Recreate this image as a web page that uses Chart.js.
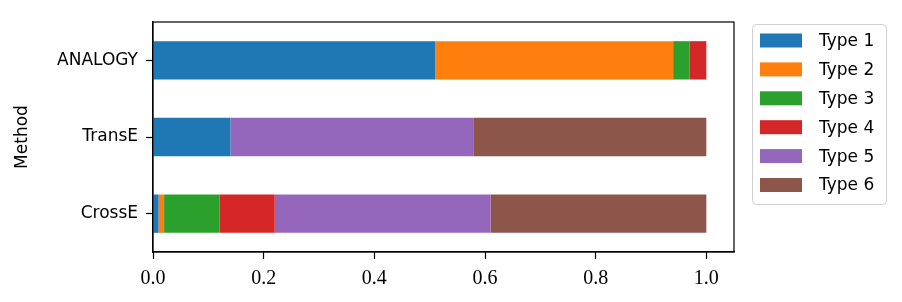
<!DOCTYPE html>
<html>
<head>
<meta charset="utf-8">
<script src="https://cdn.jsdelivr.net/npm/chart.js@4.4.1/dist/chart.umd.min.js"></script>
<style>
  html, body { margin: 0; padding: 0; background: #fff; }
  #wrap { width: 902px; height: 302px; position: relative; }
</style>
</head>
<body>
<div id="wrap"><canvas id="chart" width="902" height="302"></canvas></div>
<script>
const METHODS = ["ANALOGY", "TransE", "CrossE"];
const TYPE_NAMES = ["Type 1", "Type 2", "Type 3", "Type 4", "Type 5", "Type 6"];
const TYPE1 = [0.51, 0.14, 0.01];
const TYPE2 = [0.43, 0.00, 0.01];
const TYPE3 = [0.03, 0.00, 0.10];
const TYPE4 = [0.03, 0.00, 0.10];
const TYPE5 = [0.00, 0.44, 0.39];
const TYPE6 = [0.00, 0.42, 0.39];
const X_TICKS = [0, 0.2, 0.4, 0.6, 0.8, 1.0];

const COLORS = ["#1f77b4", "#ff7f0e", "#2ca02c", "#d62728", "#9467bd", "#8c564b"];
const SANS = "'DejaVu Sans', sans-serif";
const SERIF = "'Liberation Serif', serif";

const series = [TYPE1, TYPE2, TYPE3, TYPE4, TYPE5, TYPE6];

// spines on all four sides
const frame = {
  id: "frame",
  afterDraw(chart) {
    const {ctx, chartArea: a} = chart;
    ctx.save();
    ctx.strokeStyle = "#000";
    ctx.lineWidth = 1.2;
    ctx.strokeRect(a.left, a.top, a.right - a.left, a.bottom - a.top);
    ctx.restore();
  }
};

// matplotlib-style legend box to the right
const boxLegend = {
  id: "boxLegend",
  afterDraw(chart) {
    const ctx = chart.ctx;
    const x = 752, y = 24, w = 134, h = 180;
    ctx.save();
    ctx.beginPath();
    ctx.roundRect(x + 0.5, y + 0.5, w, h, 4);
    ctx.fillStyle = "rgba(255,255,255,0.8)";
    ctx.fill();
    ctx.strokeStyle = "#d0d0d0";
    ctx.lineWidth = 1;
    ctx.stroke();
    ctx.font = "17px " + SANS;
    ctx.textBaseline = "middle";
    chart.data.datasets.forEach((ds, i) => {
      const cy = y + 16.5 + i * 28.9;
      ctx.fillStyle = ds.backgroundColor;
      ctx.fillRect(760, cy - 7, 42, 14);
      ctx.fillStyle = "#000";
      ctx.fillText(ds.label, 819, cy + 1);
    });
    ctx.restore();
  }
};

new Chart(document.getElementById("chart"), {
  type: "bar",
  data: {
    labels: METHODS,
    datasets: series.map((vals, i) => ({
      label: TYPE_NAMES[i],
      data: vals,
      backgroundColor: COLORS[i],
      borderWidth: 0,
      barPercentage: 0.5,
      categoryPercentage: 1.0
    }))
  },
  options: {
    indexAxis: "y",
    responsive: false,
    animation: false,
    layout: { padding: { left: 0, top: 22, right: 168, bottom: 0 } },
    plugins: { legend: { display: false }, tooltip: { enabled: false } },
    scales: {
      x: {
        stacked: true,
        min: 0,
        max: 1.05,
        afterBuildTicks: s => { s.ticks = X_TICKS.map(v => ({ value: v })); },
        afterFit: s => { s.height = 50; },
        grid: { display: true, drawOnChartArea: false, drawTicks: true, tickLength: 7, color: "#000", tickWidth: 1.2 },
        border: { display: true, color: "#000", width: 1.2 },
        ticks: {
          color: "#000",
          padding: 8,
          maxRotation: 0,
          font: { family: SERIF, size: 20 },
          callback: v => Number(v).toFixed(1)
        }
      },
      y: {
        stacked: true,
        afterFit: s => { s.width = 153; },
        grid: { display: true, offset: false, drawOnChartArea: false, drawTicks: true, tickLength: 7, color: "#000", tickWidth: 1.2 },
        border: { display: true, color: "#000", width: 1.2 },
        ticks: { color: "#000", padding: 8, font: { family: SANS, size: 17 } },
        title: {
          display: true,
          text: "Method",
          color: "#000",
          font: { family: SANS, size: 17 },
          padding: { top: 12, bottom: 0 }
        }
      }
    }
  },
  plugins: [frame, boxLegend]
});
</script>
</body>
</html>
